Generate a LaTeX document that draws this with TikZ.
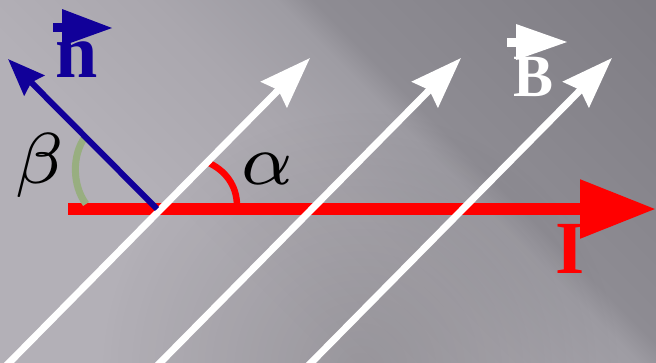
\documentclass[tikz,border=0pt]{standalone}
\usepackage{fontspec}
\newfontfamily\tnr{Liberation Serif}
\usetikzlibrary{arrows.meta,fadings}
\definecolor{nblue}{RGB}{17,0,153}
\definecolor{bgA}{RGB}{179,176,183}
\definecolor{bgB}{RGB}{170,167,174}
\definecolor{bgC}{RGB}{158,156,163}
\definecolor{bgD}{RGB}{142,140,147}
\definecolor{bgE}{RGB}{127,125,132}
\definecolor{arcgreen}{RGB}{152,174,128}
\pgfdeclareverticalshading{bgshade}{100bp}{color(0bp)=(bgA); color(40bp)=(bgA); color(50bp)=(bgB); color(57bp)=(bgC); color(59bp)=(bgD); color(77bp)=(bgE); color(100bp)=(bgE)}
\tikzfading[name=softspot, inner color=transparent!0, outer color=transparent!100]
\begin{document}
\begin{tikzpicture}[x=1pt,y=-1pt,
  bfield/.style={white, line width=7pt, -{Stealth[length=51pt,width=36pt,inset=6pt]}},
  normalvec/.style={nblue, line width=6pt, -{Stealth[length=37pt,width=28pt,inset=4pt]}},
  current/.style={red, line width=12pt, -{Triangle[length=76pt,width=56pt]}},
  lbl/.style={inner sep=0pt, outer sep=0pt}]
\useasboundingbox (0,0) rectangle (656,362);
\begin{scope}
\clip (0,0) rectangle (656,362);
\shade[shading=bgshade, shading angle=-45] (0,-147) rectangle (656,509);
\fill[black, opacity=0.14, path fading=softspot] (360,370) circle[radius=260];
\end{scope}
% coordinates
\coordinate (Istart) at (68,209);
\coordinate (Itip) at (656,209);
\coordinate (O) at (157,209);
\coordinate (ntip) at (8,59);
\coordinate (b1s) at (0,372);
\coordinate (b1t) at (310,58);
\coordinate (b2s) at (151,372);
\coordinate (b2t) at (461,58);
\coordinate (b3s) at (302,372);
\coordinate (b3t) at (612,58);
% current
\draw[current] (Istart) -- (Itip);
% angle arcs
\draw[red, line width=6.5pt] (207,162) .. controls (225,170) and (237,185) .. (237,206);
\draw[arcgreen, line width=7pt] (85,137) .. controls (72,155) and (72,185) .. (86,204);
% field lines
\draw[bfield] (b1s) -- (b1t);
\draw[bfield] (b2s) -- (b2t);
\draw[bfield] (b3s) -- (b3t);
% normal
\draw[normalvec] (O) -- (ntip);
% labels
\node[lbl] (beta) at (40,165) {\scalebox{10.3}{$\scriptstyle\beta$}};
\node[lbl] (alpha) at (267,169) {\scalebox{10.3}{$\scriptstyle\alpha$}};
\node[lbl, text=nblue, font=\tnr\bfseries\fontsize{76}{76}\selectfont] (nlab) at (77,60) {n};
\node[lbl, text=white, font=\tnr\bfseries\fontsize{60}{60}\selectfont] (Blab) at (534,77) {B};
\node[lbl, text=red, font=\tnr\bfseries\fontsize{75}{75}\selectfont] (Ilab) at (570,249) {I};
% vector arrows over labels
\fill[nblue] (53,23) rectangle (63,32);
\fill[nblue] (62,9) -- (112,28) -- (62,46) -- cycle;
\fill[white] (507,38) rectangle (517,47);
\fill[white] (516,24) -- (567,42) -- (516,60) -- cycle;
\end{tikzpicture}
\end{document}
